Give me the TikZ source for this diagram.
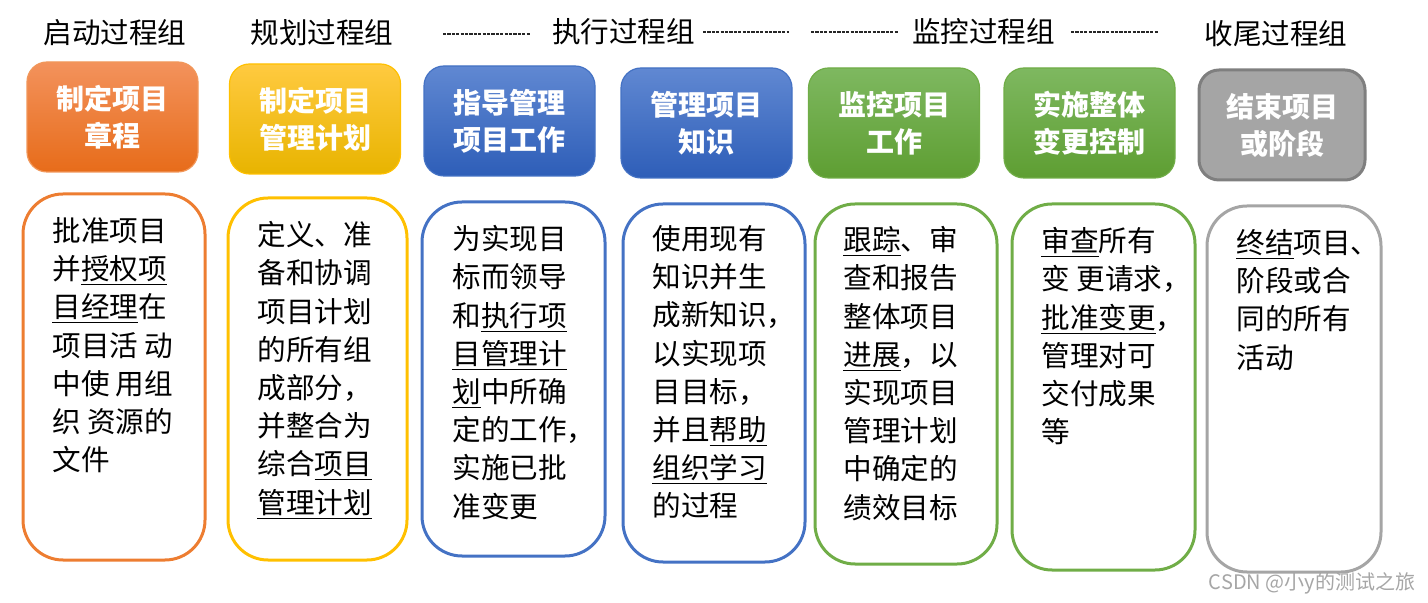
\documentclass[tikz,border=0pt]{standalone}
\usepackage{fontspec}
\newfontfamily\cjk{Noto Sans CJK SC}
\setmainfont{Liberation Serif}
\definecolor{orgT}{RGB}{243,146,92}
\definecolor{orgB}{RGB}{231,108,26}
\definecolor{orgL}{HTML}{ED7D31}
\definecolor{yelT}{RGB}{255,202,64}
\definecolor{yelB}{RGB}{232,180,0}
\definecolor{yelL}{HTML}{FFC000}
\definecolor{bluT}{RGB}{96,136,210}
\definecolor{bluB}{RGB}{46,94,184}
\definecolor{bluL}{HTML}{4472C4}
\definecolor{grnT}{RGB}{126,184,96}
\definecolor{grnB}{RGB}{94,158,50}
\definecolor{grnL}{HTML}{70AD47}
\definecolor{gryF}{HTML}{A5A5A5}
\definecolor{gryL}{HTML}{7F7F7F}
\newcommand\myHdrFont{\cjk\bfseries\fontsize{14}{18.5}\selectfont}
\newcommand\myBodyFont{\cjk\fontsize{14.3}{19.1}\selectfont}
\newcommand\myTitleFont{\cjk\fontsize{14.3}{17}\selectfont}
\tikzset{
  hdrbox/.style={rounded corners=10pt, minimum width=85.5pt, minimum height=55pt,
    inner sep=0pt, align=center, text=white, font=\myHdrFont, line width=0.6pt},
  bodybox/.style={draw, rounded corners=20pt, line width=1.5pt, inner sep=0pt},
  bodytext/.style={anchor=north west, inner sep=0pt, align=left, font=\myBodyFont},
  grptitle/.style={font=\myTitleFont, inner sep=0pt},
  dashline/.style={draw=black!85, line width=0.6pt, dash pattern=on 1.6pt off 0.6pt}
}
\newcommand\ul[1]{\underline{#1}}
\begin{document}
\begin{tikzpicture}[x=0.5pt,y=-0.5pt]
\useasboundingbox (0,0) rectangle (1428,603);
% titles
\node[grptitle] (t1) at (115,33) {启动过程组};
\node[grptitle] (t2) at (322,33) {规划过程组};
\node[grptitle] (t3) at (623.5,32) {执行过程组};
\node[grptitle] (t4) at (983.5,32) {监控过程组};
\node[grptitle] (t5) at (1276,34) {收尾过程组};
\coordinate (d1a) at (443,34); \coordinate (d1b) at (530,34);
\coordinate (d2a) at (703,32); \coordinate (d2b) at (789,32);
\coordinate (d3a) at (811,32); \coordinate (d3b) at (898,32);
\coordinate (d4a) at (1071,32); \coordinate (d4b) at (1158,32);
\draw[dashline] (d1a) -- (d1b);
\draw[dashline] (d2a) -- (d2b);
\draw[dashline] (d3a) -- (d3b);
\draw[dashline] (d4a) -- (d4b);
% header boxes
\node[hdrbox, top color=orgT, bottom color=orgB, draw=orgL!80] (h1) at (112.5,117) {制定项目\\章程};
\node[hdrbox, top color=yelT, bottom color=yelB, draw=yelL] (h2) at (315,119) {制定项目\\管理计划};
\node[hdrbox, top color=bluT, bottom color=bluB, draw=bluL] (h3) at (509.5,121) {指导管理\\项目工作};
\node[hdrbox, top color=bluT, bottom color=bluB, draw=bluL] (h4) at (706.5,123) {管理项目\\知识};
\node[hdrbox, top color=grnT, bottom color=grnB, draw=grnL] (h5) at (894,123) {监控项目\\工作};
\node[hdrbox, top color=grnT, bottom color=grnB, draw=grnL] (h6) at (1089.5,123) {实施整体\\变更控制};
\node[hdrbox, fill=gryF, draw=gryL, line width=1.5pt, minimum width=83pt] (h7) at (1282,125) {结束项目\\或阶段};
% body boxes
\node[bodybox, draw=orgL, minimum width=91pt, minimum height=183pt] (b1) at (114,377) {};
\node[bodybox, draw=yelL, minimum width=89.5pt, minimum height=181pt] (b2) at (317.5,379) {};
\node[bodybox, draw=bluL, minimum width=91.5pt, minimum height=177pt] (b3) at (513.5,379) {};
\node[bodybox, draw=bluL, minimum width=91pt, minimum height=179pt] (b4) at (714,383) {};
\node[bodybox, draw=grnL, minimum width=91pt, minimum height=180pt] (b5) at (906,384) {};
\node[bodybox, draw=grnL, minimum width=91.5pt, minimum height=183pt] (b6) at (1103.5,387) {};
\node[bodybox, draw=gryF, minimum width=87pt, minimum height=183pt] (b7) at (1294,389) {};
% body texts
\node[bodytext] (x1) at (52,217) {批准项目\\并\ul{授权项}\\\ul{目经理}在\\项目活 动\\中使 用组\\织 资源的\\文件};
\node[bodytext] (x2) at (257,221) {定义、准\\备和协调\\项目计划\\的所有组\\成部分，\\并整合为\\综合\ul{项目}\\\ul{管理计划}};
\node[bodytext] (x3) at (452,225) {为实现目\\标而领导\\和\ul{执行项}\\\ul{目管理计}\\\ul{划}中所确\\定的工作，\\实施已批\\准变更};
\node[bodytext] (x4) at (652,225) {使用现有\\知识并生\\成新知识，\\以实现项\\目目标，\\并且\ul{帮助}\\\ul{组织学习}\\的过程};
\node[bodytext] (x5) at (843,226) {\ul{跟踪}、审\\查和报告\\整体项目\\\ul{进展}，以\\实现项目\\管理计划\\中确定的\\绩效目标};
\node[bodytext] (x6) at (1041,227) {\ul{审查}所有\\变 更请求，\\\ul{批准变更}，\\管理对可\\交付成果\\等};
\node[bodytext] (x7) at (1236,229) {\ul{终结}项目、\\阶段或合\\同的所有\\活动};
% watermark
\node[font=\cjk\fontsize{10}{12}\selectfont, text=black!35, inner sep=0pt] (wm) at (1312,583) {CSDN @小y的测试之旅};
\end{tikzpicture}
\end{document}
